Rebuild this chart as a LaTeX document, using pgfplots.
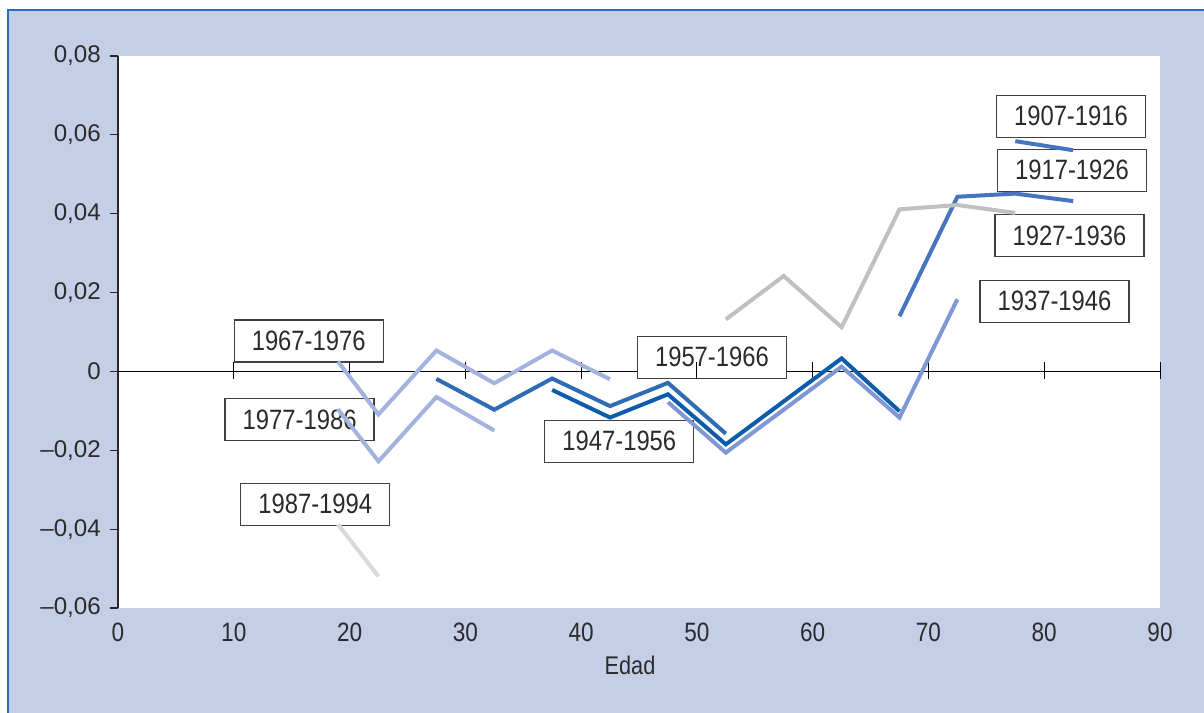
\documentclass[border=0pt]{standalone}
\usepackage{pgfplots}
\pgfplotsset{compat=1.18}
\usepackage{fontspec}
\setmainfont{Liberation Sans}
\newfontfamily\cond{Liberation Sans}[FakeStretch=0.85]
\definecolor{bgcol}{HTML}{C4CEE7}
\definecolor{bordercol}{HTML}{2B6CC4}
\definecolor{txt}{HTML}{2B2B2B}
\definecolor{boxcol}{HTML}{404040}
\definecolor{cA}{HTML}{4674C0}
\definecolor{cB}{HTML}{4674C0}
\definecolor{cC}{HTML}{C0C0C0}
\definecolor{cD}{HTML}{7F98D3}
\definecolor{cE}{HTML}{0B5CAB}
\definecolor{cF}{HTML}{2E6DB4}
\definecolor{cG}{HTML}{A3B3DE}
\definecolor{cH}{HTML}{A3B3DE}
\definecolor{cI}{HTML}{D9D9D9}
\tikzset{boxlab/.style={draw=boxcol, line width=1pt, fill=white, minimum width=111.75pt, minimum height=31.5pt, inner sep=0pt, text=txt, font=\cond\fontsize{21}{22}\selectfont}}
\begin{document}
\begin{tikzpicture}[x=0.75pt,y=0.75pt]
\useasboundingbox (0,0) rectangle (1204,713);
\fill[white] (0,0) rectangle (1204,713);
\fill[bgcol] (8,0) rectangle (1204,703);
\draw[bordercol, line width=0.9pt] (8,0) -- (8,703) -- (1204,703);
\begin{axis}[
  at={(88.5pt,78.75pt)}, anchor=south west,
  scale only axis, width=781.5pt, height=414pt,
  xmin=0, xmax=90, ymin=-0.06, ymax=0.08,
  axis background/.style={fill=white},
  axis y line*=left, axis x line*=bottom,
  x axis line style={draw=none},
  y axis line style={draw=black!85, line width=1pt},
  scaled y ticks=false, scaled x ticks=false,
  xtick={0,10,20,30,40,50,60,70,80,90},
  xticklabels={0,10,20,30,40,50,60,70,80,90},
  ytick={-0.06,-0.04,-0.02,0,0.02,0.04,0.06,0.08},
  yticklabels={{–0,06},{–0,04},{–0,02},0,{0,02},{0,04},{0,06},{0,08}},
  tick align=outside, major tick length=6pt,
  xtick style={draw=none},
  ytick style={draw=black!85, line width=0.8pt},
  xticklabel style={font=\cond\fontsize{19.9}{20}\selectfont, text=txt, anchor=north, inner sep=0pt, yshift=-5.25pt},
  yticklabel style={font=\fontsize{18.1}{19}\selectfont, text=txt, anchor=east, inner sep=0pt, xshift=-6.75pt},
  xlabel={Edad},
  xlabel style={font=\cond\fontsize{19.2}{20}\selectfont, text=txt, at={(axis description cs:0.4914,0)}, anchor=north, inner sep=0pt, yshift=-35.5pt},
  clip=false,
  every axis plot/.append style={line width=3pt, mark=none},
]
\draw[black, line width=0.75pt] (axis cs:0,0) -- (axis cs:90,0);
\node[boxlab] at (axis cs:82.31,0.0647) {1907-1916};
\node[boxlab] at (axis cs:82.40,0.0510) {1917-1926};
\node[boxlab] at (axis cs:82.18,0.0345) {1927-1936};
\node[boxlab] at (axis cs:80.89,0.0178) {1937-1946};
\node[boxlab] at (axis cs:43.30,-0.0177) {1947-1956};
\node[boxlab] at (axis cs:51.30,0.0036) {1957-1966};
\node[boxlab] at (axis cs:16.47,0.0077) {1967-1976};
\node[boxlab] at (axis cs:15.69,-0.0122) {1977-1986};
\node[boxlab] at (axis cs:17.04,-0.0337) {1987-1994};
\draw[black, line width=0.75pt] (axis cs:10,-0.0019) -- (axis cs:10,0.0023);
\draw[black, line width=0.75pt] (axis cs:20,-0.0019) -- (axis cs:20,0.0023);
\draw[black, line width=0.75pt] (axis cs:30,-0.0019) -- (axis cs:30,0.0023);
\draw[black, line width=0.75pt] (axis cs:40,-0.0019) -- (axis cs:40,0.0023);
\draw[black, line width=0.75pt] (axis cs:50,-0.0019) -- (axis cs:50,0.0023);
\draw[black, line width=0.75pt] (axis cs:60,-0.0019) -- (axis cs:60,0.0023);
\draw[black, line width=0.75pt] (axis cs:70,-0.0019) -- (axis cs:70,0.0023);
\draw[black, line width=0.75pt] (axis cs:80,-0.0019) -- (axis cs:80,0.0023);
\draw[black, line width=0.75pt] (axis cs:90,-0.0019) -- (axis cs:90,0.0023);
% 1907-1916
\addplot[cA] coordinates {(77.5,0.0584) (82.5,0.0561)};
% 1917-1926
\addplot[cB] coordinates {(67.5,0.0140) (72.5,0.0443) (77.5,0.0451) (82.5,0.0432)};
% 1927-1936
\addplot[cC] coordinates {(52.5,0.0132) (57.5,0.0242) (62.5,0.0112) (67.5,0.0411) (72.5,0.0422) (77.5,0.0402)};
% 1937-1946
\addplot[cD] coordinates {(47.5,-0.0078) (52.5,-0.0206) (57.5,-0.0097) (62.5,0.0012) (67.5,-0.0117) (72.5,0.0183)};
% 1947-1956
\addplot[cE] coordinates {(37.5,-0.0047) (42.5,-0.0117) (47.5,-0.0058) (52.5,-0.0185) (57.5,-0.0076) (62.5,0.0033) (67.5,-0.0101)};
% 1957-1966
\addplot[cF] coordinates {(27.5,-0.0019) (32.5,-0.0097) (37.5,-0.0018) (42.5,-0.0088) (47.5,-0.0029) (52.5,-0.0158)};
% 1967-1976
\addplot[cG] coordinates {(19,0.0025) (22.5,-0.0109) (27.5,0.0053) (32.5,-0.0030) (37.5,0.0053) (42.5,-0.0020)};
% 1977-1986
\addplot[cH] coordinates {(19,-0.0096) (22.5,-0.0228) (27.5,-0.0065) (32.5,-0.0150)};
% 1987-1994
\addplot[cI] coordinates {(19,-0.0388) (22.5,-0.0520)};
\end{axis}
\end{tikzpicture}
\end{document}
